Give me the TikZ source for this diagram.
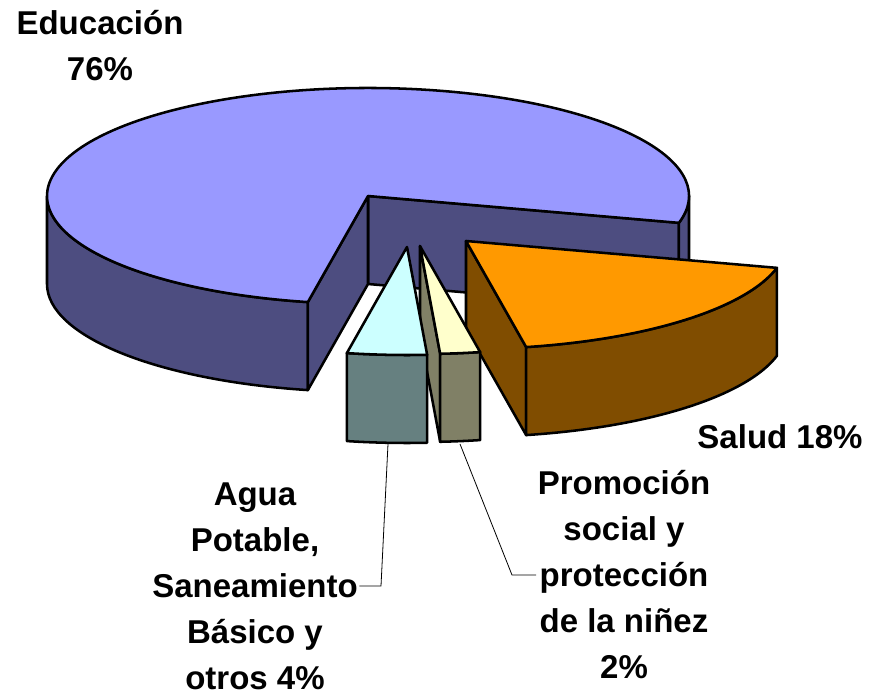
\documentclass[tikz,border=0pt]{standalone}
\usepackage{fontspec}
\setmainfont{Liberation Sans}
\usepackage{xcolor}
\usepackage{tikz}

\begin{document}
\begin{tikzpicture}[x=0.75pt,y=0.75pt,yscale=-1,xscale=1,x radius=321,y radius=108,
	rim/.style={draw=black,line width=1.9pt,line join=round},
	edutop/.style={rim,fill={rgb, 255:red, 153; green, 153; blue, 255}},
	eduside/.style={rim,fill={rgb, 255:red, 77; green, 77; blue, 128}},
	saludtop/.style={rim,fill={rgb, 255:red, 255; green, 153; blue, 0}},
	saludside/.style={rim,fill={rgb, 255:red, 128; green, 77; blue, 0}},
	promtop/.style={rim,fill={rgb, 255:red, 255; green, 255; blue, 204}},
	promside/.style={rim,fill={rgb, 255:red, 128; green, 128; blue, 102}},
	aguatop/.style={rim,fill={rgb, 255:red, 204; green, 255; blue, 255}},
	aguaside/.style={rim,fill={rgb, 255:red, 102; green, 128; blue, 128}},
	lbl/.style={font={\fontsize{24.75}{34.5}\selectfont\bfseries},align=center,inner sep=1pt},
	leader/.style={draw=black,line width=0.6pt}]
	\useasboundingbox (0,0) rectangle (869,695);
	
	%Shape: Educacion, back cut face
	\draw [eduside] (368,196) -- ++(14.4:321 and 108) -- ++(0,88) -- (368,284) -- cycle ;
	%Shape: Educacion, rim left
	\draw [eduside] (368,196) ++(100.8:321 and 108) arc[start angle=100.8,end angle=180] -- ++(0,88) arc[start angle=180,end angle=100.8] -- cycle ;
	%Shape: Educacion, rim right
	\draw [eduside] (368,196) ++(0:321 and 108) arc[start angle=0,end angle=14.4] -- ++(0,88) arc[start angle=14.4,end angle=0] -- cycle ;
	%Shape: Educacion, front cut face
	\draw [eduside] (368,196) -- ++(100.8:321 and 108) -- ++(0,88) -- (368,284) -- cycle ;
	%Shape: Educacion, top
	\draw [edutop] (368,196) -- ++(14.4:321 and 108) arc[start angle=14.4,end angle=-259.2] -- cycle ;
	
	%Shape: Salud, cut face
	\draw [saludside] (466,241) -- ++(79.2:321 and 108) -- ++(0,88) -- (466,329) -- cycle ;
	%Shape: Salud, rim
	\draw [saludside] (466,241) ++(14.4:321 and 108) arc[start angle=14.4,end angle=79.2] -- ++(0,88) arc[start angle=79.2,end angle=14.4] -- cycle ;
	%Shape: Salud, top
	\draw [saludtop] (466,241) -- ++(14.4:321 and 108) arc[start angle=14.4,end angle=79.2] -- cycle ;
	
	%Shape: Promocion, cut face
	\draw [promside] (420,246) -- ++(86.4:321 and 108) -- ++(0,88) -- (420,334) -- cycle ;
	%Shape: Promocion, rim
	\draw [promside] (420,246) ++(79.2:321 and 108) arc[start angle=79.2,end angle=86.4] -- ++(0,88) arc[start angle=86.4,end angle=79.2] -- cycle ;
	%Shape: Promocion, top
	\draw [promtop] (420,246) -- ++(79.2:321 and 108) arc[start angle=79.2,end angle=86.4] -- cycle ;
	
	%Shape: Agua, rim
	\draw [aguaside] (407,247) ++(86.4:321 and 108) arc[start angle=86.4,end angle=100.8] -- ++(0,88) arc[start angle=100.8,end angle=86.4] -- cycle ;
	%Shape: Agua, top
	\draw [aguatop] (407,247) -- ++(86.4:321 and 108) arc[start angle=86.4,end angle=100.8] -- cycle ;
	
	% Text Node
	\node [lbl] (educacion) at (100,46) {Educación\\76\%};
	% Text Node
	\node [lbl] (salud) at (780,437) {Salud 18\%};
	% Text Node
	\node [lbl] (agua) at (255,586) {Agua\\Potable,\\Saneamiento\\Básico y\\otros 4\%};
	% Text Node
	\node [lbl] (promocion) at (624,575) {Promoción\\social y\\protección\\de la niñez\\2\%};
	
	%Straight Lines: leaders
	\coordinate (agua tip) at (388,444);
	\coordinate (agua bend) at (381,0);
	\draw [leader] (agua tip) -- (agua.east -| agua bend) -- (agua.east) ;
	\coordinate (prom tip) at (460,444);
	\coordinate (prom bend) at (512,0);
	\draw [leader] (prom tip) -- (promocion.west -| prom bend) -- (promocion.west) ;
	
\end{tikzpicture}
\end{document}
